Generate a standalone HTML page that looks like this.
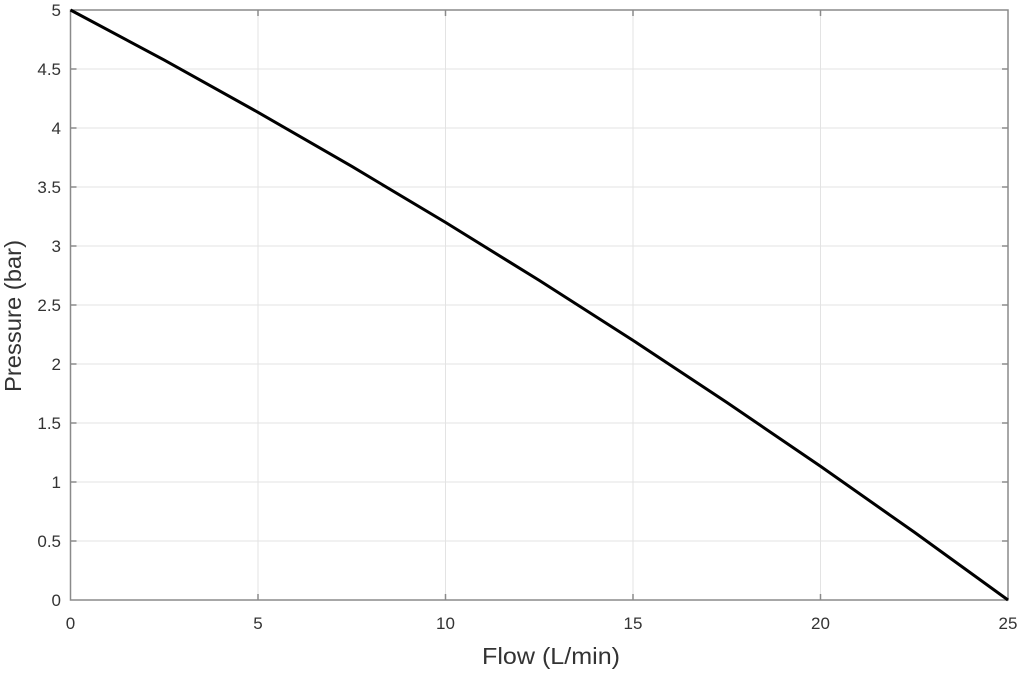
<!DOCTYPE html>
<html><head><meta charset="utf-8"><style>
html,body{margin:0;padding:0;background:#fff;}
svg{display:block;font-family:"Liberation Sans",sans-serif;}
</style></head><body>
<svg width="1024" height="679" viewBox="0 0 1024 679" xmlns="http://www.w3.org/2000/svg">
<rect width="1024" height="679" fill="#fff"/>
<g stroke="#e3e3e3" stroke-width="1">
<line x1="258" y1="10" x2="258" y2="600"/><line x1="445.5" y1="10" x2="445.5" y2="600"/>
<line x1="633" y1="10" x2="633" y2="600"/><line x1="820.5" y1="10" x2="820.5" y2="600"/>
<line x1="70.5" y1="541" x2="1008" y2="541"/><line x1="70.5" y1="482" x2="1008" y2="482"/>
<line x1="70.5" y1="423" x2="1008" y2="423"/><line x1="70.5" y1="364" x2="1008" y2="364"/>
<line x1="70.5" y1="305" x2="1008" y2="305"/><line x1="70.5" y1="246" x2="1008" y2="246"/>
<line x1="70.5" y1="187" x2="1008" y2="187"/><line x1="70.5" y1="128" x2="1008" y2="128"/>
<line x1="70.5" y1="69" x2="1008" y2="69"/>
</g>
<g stroke="#8a8a8a" stroke-width="1.5">
<rect x="70.5" y="10" width="937.5" height="590" fill="none"/>
<line x1="258" y1="600" x2="258" y2="594"/><line x1="445.5" y1="600" x2="445.5" y2="594"/>
<line x1="633" y1="600" x2="633" y2="594"/><line x1="820.5" y1="600" x2="820.5" y2="594"/>
<line x1="258" y1="10" x2="258" y2="16"/><line x1="445.5" y1="10" x2="445.5" y2="16"/>
<line x1="633" y1="10" x2="633" y2="16"/><line x1="820.5" y1="10" x2="820.5" y2="16"/>
<line x1="70.5" y1="541" x2="76.5" y2="541"/><line x1="70.5" y1="482" x2="76.5" y2="482"/>
<line x1="70.5" y1="423" x2="76.5" y2="423"/><line x1="70.5" y1="364" x2="76.5" y2="364"/>
<line x1="70.5" y1="305" x2="76.5" y2="305"/><line x1="70.5" y1="246" x2="76.5" y2="246"/>
<line x1="70.5" y1="187" x2="76.5" y2="187"/><line x1="70.5" y1="128" x2="76.5" y2="128"/>
<line x1="70.5" y1="69" x2="76.5" y2="69"/>
<line x1="1008" y1="541" x2="1002" y2="541"/><line x1="1008" y1="482" x2="1002" y2="482"/>
<line x1="1008" y1="423" x2="1002" y2="423"/><line x1="1008" y1="364" x2="1002" y2="364"/>
<line x1="1008" y1="305" x2="1002" y2="305"/><line x1="1008" y1="246" x2="1002" y2="246"/>
<line x1="1008" y1="187" x2="1002" y2="187"/><line x1="1008" y1="128" x2="1002" y2="128"/>
<line x1="1008" y1="69" x2="1002" y2="69"/>
</g>
<polyline fill="none" stroke="#000" stroke-width="3" points="70.5,10 164.25,60.1 258,112.3 351.75,166.35 445.5,222.4 539.25,280.4 633,340.4 726.75,402.35 820.5,466.3 914.25,532.15 1008,600"/>
<g fill="#333" font-size="17" text-anchor="middle">
<text x="70.5" y="629">0</text><text x="258" y="629">5</text><text x="445.5" y="629">10</text>
<text x="633" y="629">15</text><text x="820.5" y="629">20</text><text x="1008" y="629">25</text>
</g>
<g fill="#333" font-size="17" text-anchor="end">
<text x="61" y="606">0</text><text x="61" y="547">0.5</text><text x="61" y="488">1</text>
<text x="61" y="429">1.5</text><text x="61" y="370">2</text><text x="61" y="311">2.5</text>
<text x="61" y="252">3</text><text x="61" y="193">3.5</text><text x="61" y="134">4</text>
<text x="61" y="75">4.5</text><text x="61" y="16">5</text>
</g>
<text x="551" y="664" font-size="23" fill="#333" text-anchor="middle" textLength="138" lengthAdjust="spacingAndGlyphs">Flow (L/min)</text>
<text transform="translate(21,316) rotate(-90)" font-size="23" fill="#333" text-anchor="middle" textLength="152" lengthAdjust="spacingAndGlyphs">Pressure (bar)</text>
</svg>
</body></html>
